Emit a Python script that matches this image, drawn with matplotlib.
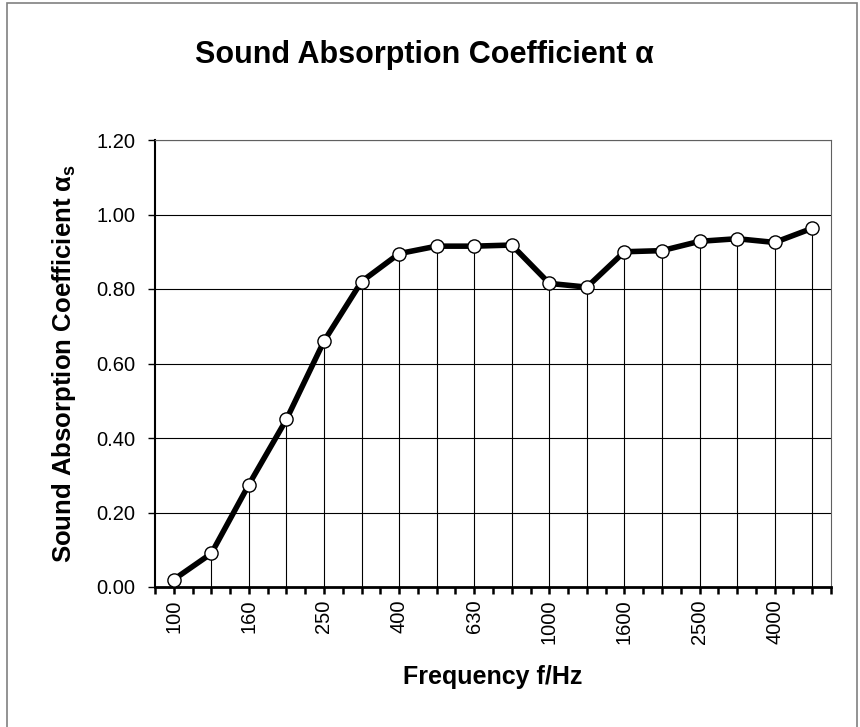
import numpy as np
import matplotlib
matplotlib.use('Agg')
import matplotlib.pyplot as plt
from matplotlib.patches import Rectangle

plt.rcParams['font.family'] = ['Liberation Sans', 'DejaVu Sans']
plt.rcParams['mathtext.fontset'] = 'custom'
plt.rcParams['mathtext.rm'] = 'Liberation Sans:bold'
plt.rcParams['mathtext.it'] = 'Liberation Sans:bold'
plt.rcParams['mathtext.bf'] = 'Liberation Sans:bold'

freqs = ['100', '125', '160', '200', '250', '315', '400', '500', '630', '800',
         '1000', '1250', '1600', '2000', '2500', '3150', '4000', '5000']
alpha = [0.02, 0.09, 0.275, 0.45, 0.66, 0.82, 0.895, 0.915, 0.915, 0.918,
         0.815, 0.805, 0.90, 0.903, 0.928, 0.935, 0.925, 0.963]
yticks = [0.0, 0.2, 0.4, 0.6, 0.8, 1.0, 1.2]

fig = plt.figure(figsize=(8.6, 7.27), dpi=100)
ax = fig.add_axes([155 / 860, 1 - 587 / 727, 676 / 860, 447 / 727])

# figure frame
fig.patches.append(Rectangle((7 / 860, -0.05), 850 / 860, 1.05 - 3 / 727, transform=fig.transFigure,
                             fill=False, edgecolor='#808080', linewidth=1.2))

x = np.arange(len(freqs))
ax.vlines(x, 0, alpha, color='black', linewidth=0.8, zorder=1)
for y in yticks[1:]:
    ax.axhline(y, color='black', linewidth=0.8, zorder=1)
ax.plot(x, alpha, '-', color='black', linewidth=4, zorder=3)
ax.plot(x, alpha, 'o', markersize=9.5, markerfacecolor='white', markeredgecolor='black',
        markeredgewidth=1.0, zorder=4)

ax.set_xlim(-0.5, len(freqs) - 0.5)
ax.set_ylim(0, 1.2)
ax.set_yticks(yticks)
ax.set_yticklabels(['%.2f' % v for v in yticks], fontsize=14.5)

tick_pos = np.arange(-0.5, len(freqs) - 0.4, 0.5)
tick_lab = []
for p in tick_pos:
    if p >= 0 and p == int(p) and int(p) % 2 == 0:
        tick_lab.append(freqs[int(p)])
    else:
        tick_lab.append('')
ax.set_xticks(tick_pos)
ax.set_xticklabels(tick_lab, rotation=90, fontsize=14.5)
ax.tick_params(axis='x', direction='out', length=5, width=1.8, pad=4)
ax.tick_params(axis='y', direction='out', length=5, width=1.0, pad=9)

for s in ['top', 'right']:
    ax.spines[s].set_color('#606060')
    ax.spines[s].set_linewidth(0.8)
ax.spines['bottom'].set_linewidth(2.0)
ax.spines['left'].set_linewidth(1.5)

ax.set_xlabel('Frequency f/Hz', fontsize=18, fontweight='bold', labelpad=15)
ax.set_ylabel(r'Sound Absorption Coefficient α$_s$', fontsize=18.5, fontweight='bold', labelpad=13)
fig.text(0.494, 1 - 55 / 727, 'Sound Absorption Coefficient α', ha='center', va='center',
         fontsize=22, fontweight='bold')

fig.savefig('out.png', dpi=100)
